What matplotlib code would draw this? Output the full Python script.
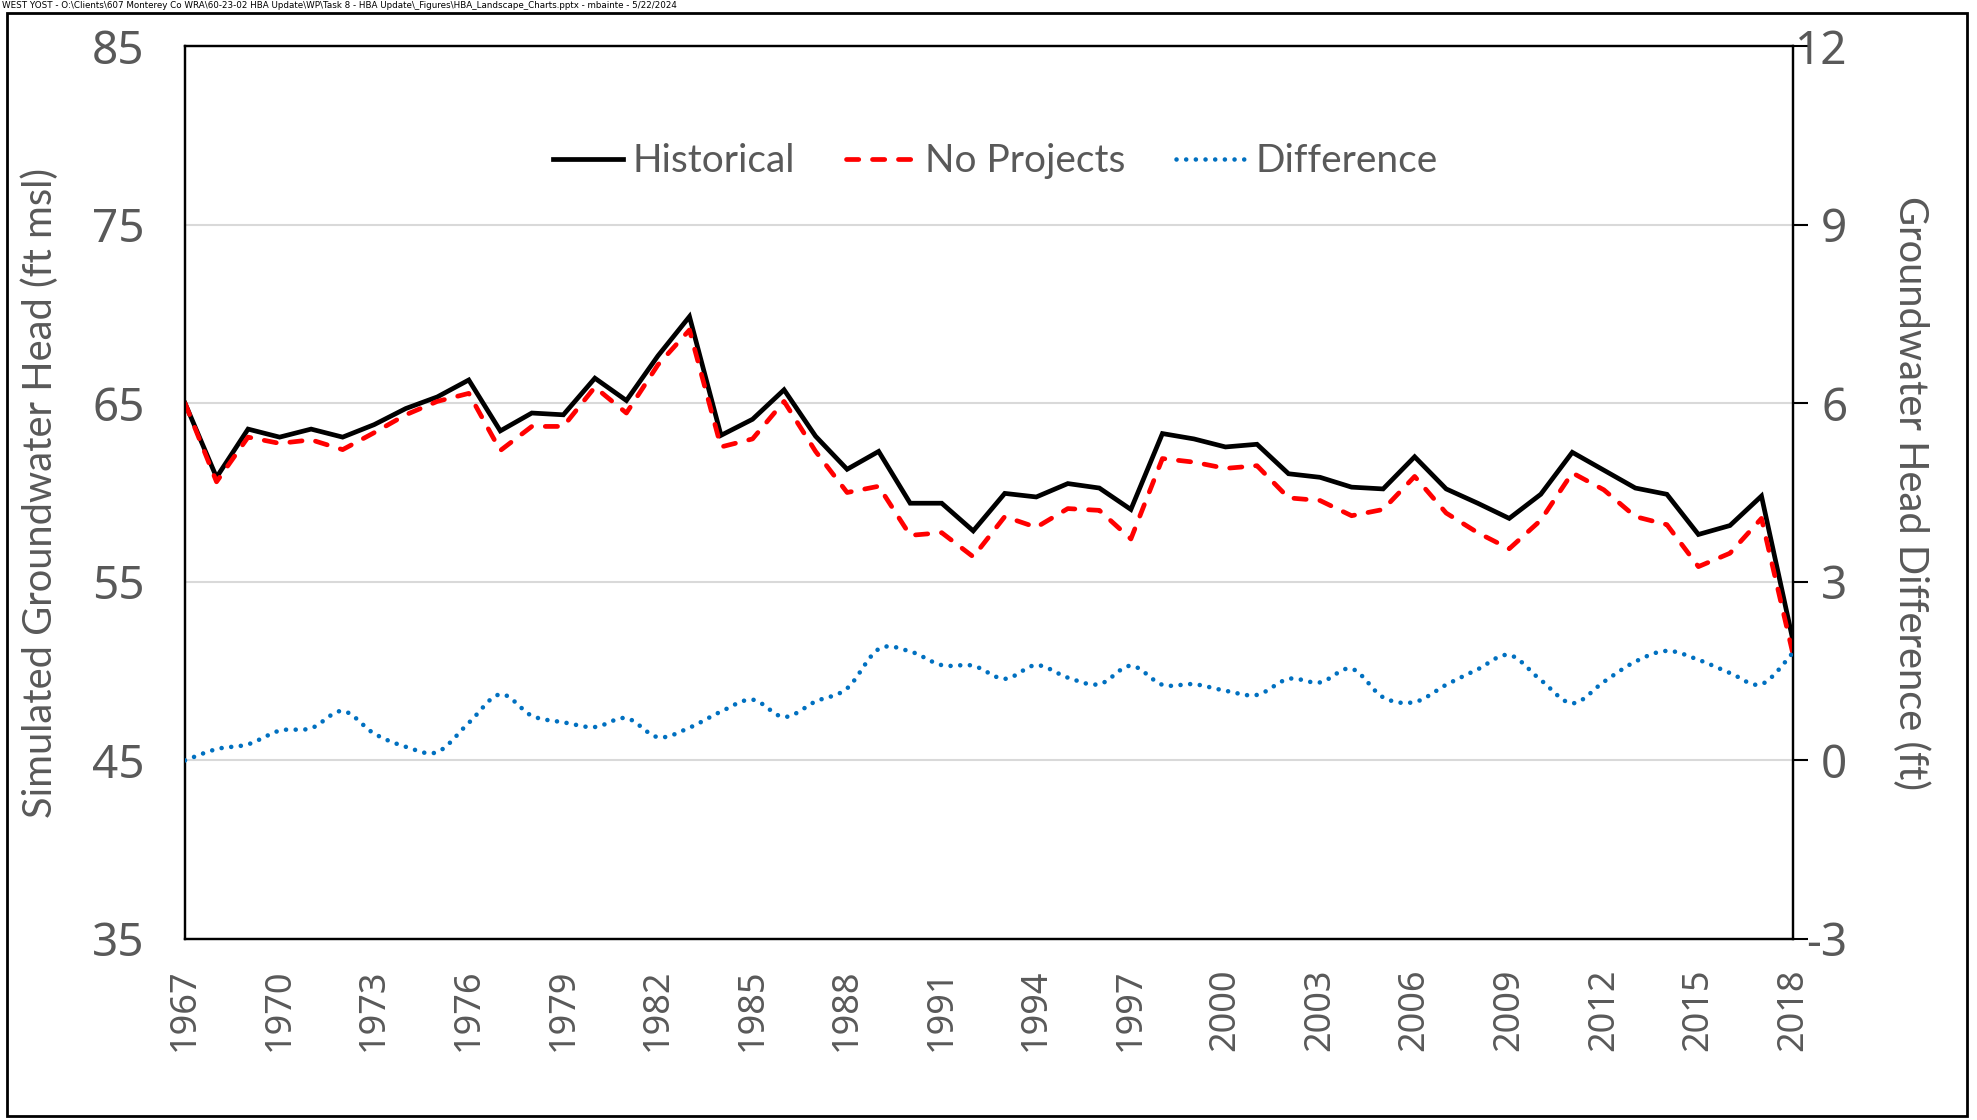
import numpy as np
import matplotlib
matplotlib.use("Agg")
import matplotlib.pyplot as plt
from matplotlib.lines import Line2D
from matplotlib.patches import Rectangle

# ---- data ----
years = list(range(1967, 2019))

historical = [65.0, 60.85, 63.55, 63.1, 63.55, 63.1, 63.8, 64.7, 65.35, 66.3,
              63.45, 64.45, 64.35, 66.4, 65.15, 67.65, 69.85, 63.2, 64.1, 65.75,
              63.15, 61.3, 62.3, 59.4, 59.4, 57.85, 59.95, 59.75, 60.5, 60.25,
              59.05, 63.3, 63.0, 62.55, 62.7, 61.05, 60.85, 60.3, 60.2, 62.0,
              60.2, 59.4, 58.55, 59.9, 62.25, 61.25, 60.25, 59.9, 57.65, 58.15,
              59.8, 51.7]

no_projects = [65.0, 60.6, 63.1, 62.75, 62.95, 62.4, 63.35, 64.35, 65.1, 65.55,
               62.35, 63.7, 63.7, 65.9, 64.45, 67.15, 69.1, 62.55, 63.0, 65.1,
               62.3, 60.0, 60.35, 57.6, 57.75, 56.4, 58.65, 58.05, 59.1, 59.0,
               57.4, 61.9, 61.7, 61.35, 61.5, 59.7, 59.55, 58.7, 59.05, 60.9,
               58.85, 57.75, 56.85, 58.45, 61.1, 60.15, 58.65, 58.2, 55.85, 56.6,
               58.55, 50.95]

difference = [0.0, 0.19, 0.27, 0.50, 0.54, 0.83, 0.45, 0.23, 0.14, 0.63,
              1.11, 0.75, 0.64, 0.56, 0.71, 0.39, 0.55, 0.82, 1.02, 0.73,
              0.99, 1.21, 1.87, 1.83, 1.60, 1.59, 1.37, 1.60, 1.39, 1.28,
              1.59, 1.27, 1.28, 1.17, 1.10, 1.37, 1.31, 1.54, 1.06, 0.98,
              1.27, 1.53, 1.77, 1.35, 0.96, 1.32, 1.66, 1.84, 1.69, 1.47,
              1.28, 1.81]

year_ticks = list(range(1967, 2019, 3))
head_ticks = [35, 45, 55, 65, 75, 85]
diff_ticks = [-3, 0, 3, 6, 9, 12]

header = ("WEST YOST - O:\\Clients\\607 Monterey Co WRA\\60-23-02 HBA Update\\WP\\"
          "Task 8 - HBA Update\\_Figures\\HBA_Landscape_Charts.pptx - mbainte - 5/22/2024")

# ---- style ----
GRAY = "#595959"
LABELFONT = ["Lato", "DejaVu Sans"]
TICKFONT = ["Noto Sans", "DejaVu Sans"]


def smooth_curve(x, y, n=20):
    """Bezier smoothing through every point (Catmull-Rom tangents)."""
    P = np.column_stack([np.asarray(x, float), np.asarray(y, float)])
    E = np.vstack([P[0], P, P[-1]])
    segs = []
    t = np.linspace(0, 1, n, endpoint=False)[:, None]
    for i in range(len(P) - 1):
        p0, p1, p2, p3 = E[i], E[i + 1], E[i + 2], E[i + 3]
        c1 = p1 + (p2 - p0) / 6.0
        c2 = p2 - (p3 - p1) / 6.0
        segs.append((1 - t) ** 3 * p1 + 3 * (1 - t) ** 2 * t * c1
                    + 3 * (1 - t) * t ** 2 * c2 + t ** 3 * p2)
    segs.append(P[-1:])
    S = np.vstack(segs)
    return S[:, 0], S[:, 1]


W, H = 1977, 1120
fig = plt.figure(figsize=(W / 100, H / 100), dpi=100)
fig.patch.set_facecolor("white")

left, right, top, bottom = 185, 1793, 46, 939
ax = fig.add_axes([left / W, 1 - bottom / H, (right - left) / W, (bottom - top) / H])
ax2 = ax.twinx()

# main series
ax.plot(years, historical, color="black", lw=3.4, solid_joinstyle="miter",
        zorder=3, label="Historical")
ax.plot(years, no_projects, color="#FF0000", lw=3.4, linestyle=(0, (2.6, 2.9)),
        dash_capstyle="round", zorder=4, label="No Projects")

sx, sy = smooth_curve(years, difference)
ax2.plot(sx, sy, color="#0070C0", lw=3.3, linestyle=(0, (0.01, 2.1)),
         dash_capstyle="round", zorder=5, label="Difference")

# axes limits / ticks
ax.set_xlim(years[0], years[-1])
ax.set_ylim(35, 85)
ax2.set_ylim(-3, 12)
ax.set_yticks(head_ticks)
ax2.set_yticks(diff_ticks)
ax.set_xticks(year_ticks)
ax.set_xticklabels([str(y) for y in year_ticks], rotation=90,
                   fontfamily=TICKFONT, fontsize=26, color=GRAY)
ax.set_yticklabels([str(v) for v in head_ticks], fontfamily=TICKFONT,
                   fontsize=33, color=GRAY)
ax2.set_yticklabels([str(v) for v in diff_ticks], fontfamily=TICKFONT,
                    fontsize=33, color=GRAY, ha="right")

ax.tick_params(axis="x", length=0, pad=21)
ax.tick_params(axis="y", length=0, pad=29)
ax2.tick_params(axis="y", direction="out", length=11, width=1.5,
                color="black", pad=28)

ax.yaxis.grid(True, color="#D9D9D9", lw=1.5, zorder=0)
ax.set_axisbelow(True)

for a in (ax, ax2):
    for sp in a.spines.values():
        sp.set_color("black")
        sp.set_linewidth(1.6)

ax.set_ylabel("Simulated Groundwater Head (ft msl)", fontfamily=LABELFONT,
              fontsize=28.7, color=GRAY, va="center")
ax.yaxis.set_label_coords(-0.090, 0.5)
ax2.set_ylabel("Groundwater Head Difference (ft)", fontfamily=LABELFONT,
               fontsize=28.7, color=GRAY, rotation=270, va="center")
ax2.yaxis.set_label_coords(1.073, 0.5)

# legend
handles = [
    Line2D([], [], color="black", lw=3.4),
    Line2D([], [], color="#FF0000", lw=3.4, linestyle=(0, (2.6, 2.9)),
           dash_capstyle="round"),
    Line2D([], [], color="#0070C0", lw=3.3, linestyle=(0, (0.01, 2.1)),
           dash_capstyle="round"),
]
leg = ax2.legend(handles, ["Historical", "No Projects", "Difference"],
                 loc="center", bbox_to_anchor=(0.504, 0.871), ncol=3,
                 frameon=False, handlelength=1.8, handletextpad=0.25,
                 columnspacing=1.3,
                 prop={"family": LABELFONT, "size": 28})
for txt in leg.get_texts():
    txt.set_color(GRAY)

# page frame and file-path header
fig.add_artist(Rectangle((7 / W, 1 - 1116 / H), (1967 - 7) / W, (1116 - 13) / H,
                         transform=fig.transFigure, fill=False,
                         edgecolor="black", lw=2.0))
fig.text(2 / W, 1 - 1 / H, header, fontsize=6.3, color="black",
         family=["DejaVu Sans"], ha="left", va="top")

fig.savefig("out.png", dpi=100)
